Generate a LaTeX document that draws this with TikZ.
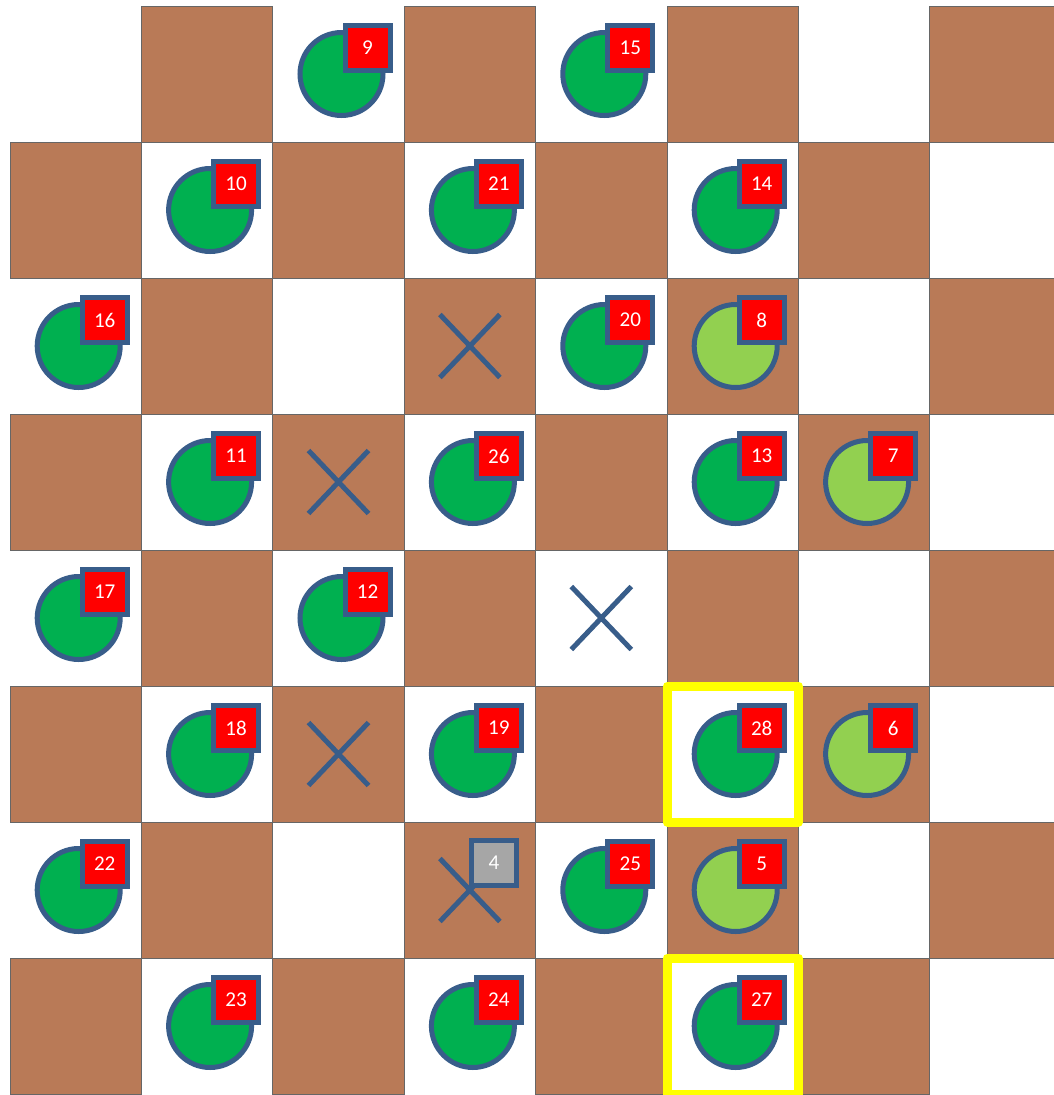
\documentclass[tikz,border=0pt]{standalone}
\usepackage{fontspec}
\setmainfont{Carlito}
\definecolor{board}{HTML}{B97A57}
\definecolor{rim}{HTML}{385D8A}
\definecolor{pawn}{HTML}{00B050}
\definecolor{crowned}{HTML}{92D050}
\definecolor{tagred}{HTML}{FF0000}
\definecolor{ghost}{HTML}{A6A6A6}
\definecolor{pickyellow}{HTML}{FFFF00}
\tikzset{
  cell/.style={fill=board, draw=black!60, line width=0.5pt},
  piece/.style={circle, draw=rim, line width=0.1cm, minimum size=1.66cm, inner sep=0pt},
  tag/.style={rectangle, draw=rim, line width=0.1cm, fill=tagred, text=white,
    minimum size=0.9cm, inner sep=0pt, font=\fontsize{12}{13}\selectfont},
  cross/.style={draw=rim, line width=0.1cm},
  pick/.style={draw=pickyellow, line width=0.18cm, line join=round}
}
\begin{document}
\begin{tikzpicture}[x=2.628cm, y=-2.72cm]
  \useasboundingbox (-0.2cm,0.12cm) rectangle (20.88cm,-21.78cm);
  \clip (-0.2cm,0.12cm) rectangle (20.88cm,-21.78cm);
  % Brown squares of the board
  \foreach \r in {0,...,7}
    \foreach \c in {1,3,5,7}{
      \pgfmathtruncatemacro\cc{\c-mod(\r,2)}
      \draw[cell] (\cc,\r) rectangle ++(1,1);
    }
  % Selected squares
  \draw[pick] (5,5) rectangle (6,6);
  \draw[pick] (5,7) rectangle (6,8);
  % Crossed squares
  \foreach \c/\r in {3/2, 2/3, 4/4, 2/5, 3/6}{
    \draw[cross] (\c+0.5,\r+0.5) +(-0.6cm,-0.63cm) -- +(0.6cm,0.63cm)
      +(-0.6cm,0.63cm) -- +(0.6cm,-0.63cm);
  }
  % Dark green pieces
  \foreach \c/\r/\n in {2/0/9, 4/0/15, 1/1/10, 3/1/21, 5/1/14, 0/2/16, 4/2/20,
                        1/3/11, 3/3/26, 5/3/13, 0/4/17, 2/4/12, 1/5/18, 3/5/19,
                        5/5/28, 0/6/22, 4/6/25, 1/7/23, 3/7/24, 5/7/27}{
    \node[piece, fill=pawn] (p\n) at ([xshift=0.06cm]\c+0.5,\r+0.5) {};
    \node[tag] (t\n) at ([shift={(0.52cm,0.52cm)}]p\n.center) {\n};
  }
  % Light green pieces
  \foreach \c/\r/\n in {5/2/8, 6/3/7, 6/5/6, 5/6/5}{
    \node[piece, fill=crowned] (p\n) at ([xshift=0.06cm]\c+0.5,\r+0.5) {};
    \node[tag] (t\n) at ([shift={(0.52cm,0.52cm)}]p\n.center) {\n};
  }
  % Grey tag on the crossed square
  \node[tag, fill=ghost] (t4) at ([shift={(0.48cm,0.55cm)}]3.5,6.5) {4};
\end{tikzpicture}
\end{document}
